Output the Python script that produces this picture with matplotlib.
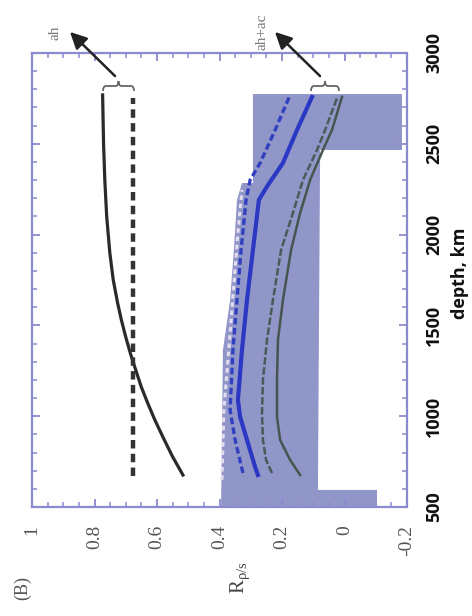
import matplotlib
matplotlib.use('Agg')
import matplotlib.pyplot as plt
from matplotlib.ticker import FixedLocator, FixedFormatter, MultipleLocator
from matplotlib.path import Path
from matplotlib.patches import PathPatch

# ---------------- data ----------------
# black solid curve (ah)
depth_ah = [676, 780, 885, 980, 1073, 1160, 1254, 1345, 1436, 1530, 1623, 1750, 1900, 2100, 2300, 2500, 2769]
r_ah = [0.517, 0.551, 0.581, 0.607, 0.630, 0.650, 0.668, 0.685, 0.700, 0.714, 0.726, 0.740, 0.751, 0.761, 0.767, 0.771, 0.774]
# black dashed line
depth_ah_dash = [670, 2750]
r_ah_dash = [0.677, 0.677]

# shaded region bounds
shade_left_depth = [500, 1365, 1640, 1915, 2191, 2284, 2284, 2774]
shade_left_r = [0.395, 0.389, 0.366, 0.354, 0.344, 0.328, 0.293, 0.293]
shade_right_depth = [500, 594, 594, 2466, 2466, 2774]
shade_right_r = [-0.104, -0.104, 0.085, 0.078, -0.184, -0.184]

# blue solid
depth_blue = [676, 720, 869, 996, 1089, 1365, 1640, 1915, 2191, 2273, 2394, 2576, 2758]
r_blue = [0.277, 0.286, 0.312, 0.334, 0.341, 0.328, 0.312, 0.293, 0.274, 0.245, 0.197, 0.152, 0.104]
# blue dashed
depth_blue_d = [687, 869, 1034, 1365, 1640, 1915, 2191, 2301, 2394, 2576, 2769]
r_blue_d = [0.325, 0.350, 0.366, 0.357, 0.344, 0.331, 0.315, 0.302, 0.270, 0.222, 0.174]
# light dashed
depth_light = [650, 1034, 1459, 2010, 2246]
r_light = [0.392, 0.386, 0.366, 0.341, 0.328]
# green solid
depth_green = [676, 759, 869, 996, 1199, 1420, 1640, 1915, 2119, 2301, 2466, 2576, 2758]
r_green = [0.142, 0.174, 0.206, 0.216, 0.216, 0.213, 0.197, 0.171, 0.142, 0.110, 0.069, 0.040, 0.008]
# green dashed
depth_green_d = [687, 759, 869, 1018, 1199, 1420, 1640, 1915, 2119, 2301, 2466, 2576, 2752]
r_green_d = [0.232, 0.251, 0.261, 0.264, 0.261, 0.248, 0.229, 0.203, 0.165, 0.133, 0.088, 0.062, 0.024]

r_ticks = [1, 0.8, 0.6, 0.4, 0.2, 0, -0.2]
r_tick_labels = ['1', '0.8', '0.6', '0.4', '0.2', '0', '-0.2']
depth_ticks = [500, 1000, 1500, 2000, 2500, 3000]
depth_tick_labels = ['500', '1000', '1500', '2000', '2500', '3000']

# ---------------- figure ----------------
W, H = 472, 616
fig = plt.figure(figsize=(W / 100, H / 100), dpi=100)
ax = fig.add_axes([32 / W, 1 - 507 / H, 375 / W, 454 / H])
ax.set_xlim(1, -0.2)
ax.set_ylim(500, 3000)

frame_color = '#8a8ad0'
for s in ax.spines.values():
    s.set_color(frame_color)
    s.set_linewidth(1.6)

# shaded region
poly_r = shade_right_r + shade_left_r[::-1]
poly_d = shade_right_depth + shade_left_depth[::-1]
ax.fill(poly_r, poly_d, facecolor='#9196c9', edgecolor='none', zorder=1)

# curves
ax.plot(r_light, depth_light, color='#e4dcef', lw=2.2, ls=(0, (1.5, 1.2)), zorder=3)
ax.plot(r_blue_d, depth_blue_d, color='#3040c0', lw=2.4, ls=(0, (2, 1)), zorder=3)
ax.plot(r_blue, depth_blue, color='#2a38c4', lw=3.0, zorder=3)
ax.plot(r_green_d, depth_green_d, color='#4a5a58', lw=1.8, ls=(0, (3, 1)), zorder=3)
ax.plot(r_green, depth_green, color='#46564f', lw=1.8, zorder=3)

ax.plot(r_ah, depth_ah, color='#2a2a2a', lw=2.3, zorder=4)
ax.plot(r_ah_dash, depth_ah_dash, color='#333333', lw=3.2, ls=(0, (1.9, 1.2)), zorder=4)

# ticks
ax.xaxis.set_major_locator(FixedLocator(r_ticks))
ax.xaxis.set_major_formatter(FixedFormatter(r_tick_labels))
ax.xaxis.set_minor_locator(MultipleLocator(0.05))
ax.yaxis.set_major_locator(FixedLocator(depth_ticks))
ax.yaxis.set_major_formatter(FixedFormatter(depth_tick_labels))
ax.yaxis.set_minor_locator(MultipleLocator(100))

ax.tick_params(axis='both', which='both', direction='in', color=frame_color,
               top=True, bottom=True, left=True, right=True)
ax.tick_params(which='major', length=6, width=1.3)
ax.tick_params(which='minor', length=3.5, width=1.1)
ax.tick_params(axis='y', labelleft=False, labelright=True, pad=13)
ax.tick_params(axis='x', pad=13)

for lab in ax.get_xticklabels():
    lab.set_rotation(90)
    lab.set_ha('center')
    lab.set_va('top')
    lab.set_family('Liberation Serif')
    lab.set_fontsize(14)
    lab.set_color('#555555')
for lab in ax.get_yticklabels():
    lab.set_rotation(90)
    lab.set_ha('left')
    lab.set_va('center')
    lab.set_family('Open Sans')
    lab.set_fontweight('bold')
    lab.set_fontsize(13)
    lab.set_color('#111111')

# axis titles
fig.text(460 / W, 1 - 273 / H, 'depth, km', rotation=90, ha='center', va='center',
         family='Open Sans', fontweight='bold', fontsize=13, color='#111111')
fig.text(240 / W, 1 - 578 / H, r'$\mathregular{R_{\rho/s}}$', rotation=90,
         ha='center', va='center', family='Liberation Serif', fontsize=15, color='#444444')
fig.text(23 / W, 1 - 588 / H, '(B)', rotation=90, ha='center', va='center',
         family='Liberation Serif', fontsize=13, color='#555555')


# braces (drawn in pixel coordinates, y measured from top)
def brace(x0, x1, y, h=5):
    xm = (x0 + x1) / 2
    pts = [(x0, y + h), (x0, y), (x0 + 3, y),
           (xm - 3, y),
           (xm, y), (xm, y - h),
           (xm, y), (xm + 3, y),
           (x1 - 3, y),
           (x1, y), (x1, y + h)]
    codes = [Path.MOVETO, Path.CURVE3, Path.CURVE3,
             Path.LINETO,
             Path.CURVE3, Path.CURVE3,
             Path.CURVE3, Path.CURVE3,
             Path.LINETO,
             Path.CURVE3, Path.CURVE3]
    verts = [(px / W, 1 - py / H) for px, py in pts]
    fig.add_artist(PathPatch(Path(verts, codes), transform=fig.transFigure,
                             facecolor='none', edgecolor='#666666', lw=1.3))


brace(103, 134, 86)
brace(311, 339, 86)

arrow_kw = dict(arrowstyle='-|>,head_length=1.0,head_width=0.5', color='#222222', lw=1.8)
ax.annotate('', xy=(68 / W, 1 - 30 / H), xytext=(117 / W, 1 - 78 / H),
            xycoords='figure fraction', textcoords='figure fraction',
            arrowprops=arrow_kw, annotation_clip=False)
ax.annotate('', xy=(273 / W, 1 - 30 / H), xytext=(322 / W, 1 - 78 / H),
            xycoords='figure fraction', textcoords='figure fraction',
            arrowprops=arrow_kw, annotation_clip=False)
fig.text(55 / W, 1 - 40 / H, 'ah', rotation=90, ha='center', va='bottom',
         family='Liberation Serif', fontsize=11, color='#777777')
fig.text(262 / W, 1 - 50 / H, 'ah+ac', rotation=90, ha='center', va='bottom',
         family='Liberation Serif', fontsize=11, color='#777777')

fig.savefig('out.png', dpi=100)
